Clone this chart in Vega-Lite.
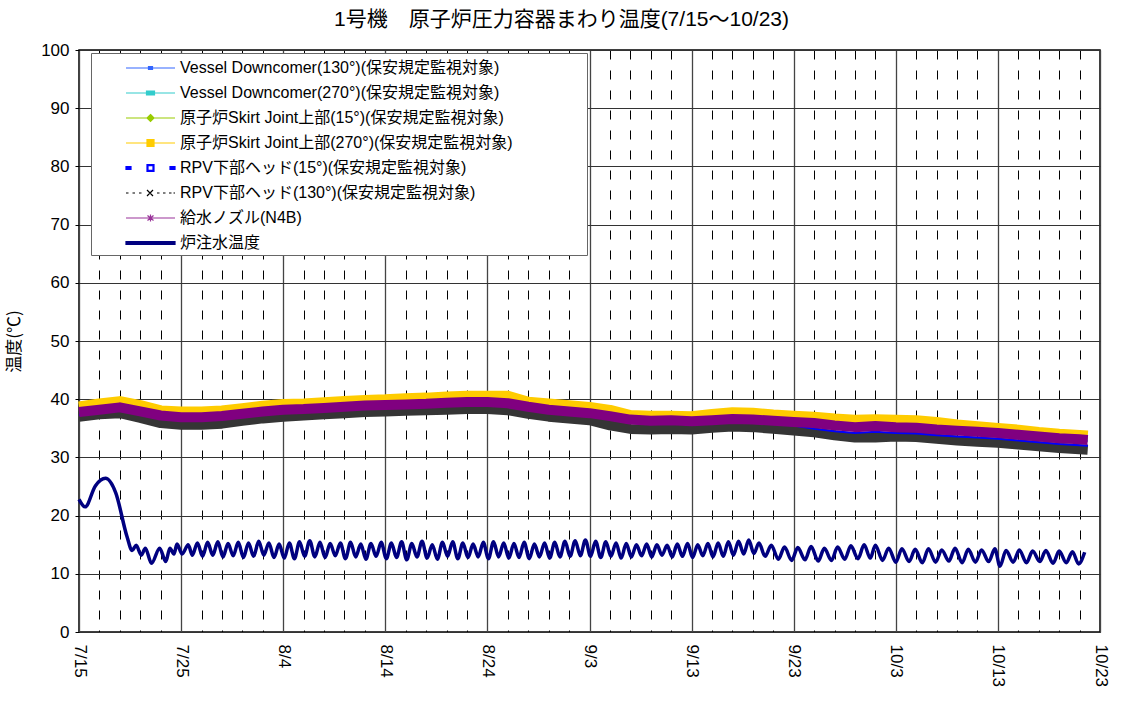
{
  "$schema": "https://vega.github.io/schema/vega-lite/v6.json",
  "width": 1021,
  "height": 582,
  "autosize": {"type": "none"},
  "padding": {"left": 79, "top": 50, "right": 24, "bottom": 75},
  "background": "#ffffff",
  "title": {
    "text": "1号機　原子炉圧力容器まわり温度(7/15～10/23)",
    "fontSize": 21,
    "fontWeight": "normal",
    "font": "Liberation Sans, Noto Sans CJK JP",
    "color": "#000000",
    "anchor": "middle",
    "frame": "group",
    "dx": -28,
    "offset": 11
  },
  "datasets": {
    "bands": [
      {"day": 0, "s270": 38.6, "n4b": 37.8, "r130": 37.0, "r15": 37.3, "v130": 37.6, "v270": 37.9, "s15": 38.1},
      {"day": 2, "s270": 39.1, "n4b": 38.2, "r130": 37.4, "r15": 37.7, "v130": 38.0, "v270": 38.3, "s15": 38.5},
      {"day": 4, "s270": 39.5, "n4b": 38.6, "r130": 37.6, "r15": 38.1, "v130": 38.4, "v270": 38.7, "s15": 38.9},
      {"day": 6, "s270": 38.8, "n4b": 37.9, "r130": 36.8, "r15": 37.4, "v130": 37.7, "v270": 38.0, "s15": 38.2},
      {"day": 8, "s270": 37.9, "n4b": 37.2, "r130": 35.9, "r15": 36.7, "v130": 37.0, "v270": 37.3, "s15": 37.5},
      {"day": 10, "s270": 37.7, "n4b": 36.9, "r130": 35.6, "r15": 36.4, "v130": 36.7, "v270": 37.0, "s15": 37.2},
      {"day": 12, "s270": 37.7, "n4b": 36.9, "r130": 35.6, "r15": 36.4, "v130": 36.7, "v270": 37.0, "s15": 37.2},
      {"day": 14, "s270": 37.9, "n4b": 37.1, "r130": 35.8, "r15": 36.6, "v130": 36.9, "v270": 37.2, "s15": 37.4},
      {"day": 16, "s270": 38.3, "n4b": 37.5, "r130": 36.3, "r15": 37.0, "v130": 37.3, "v270": 37.6, "s15": 37.8},
      {"day": 18, "s270": 38.7, "n4b": 37.9, "r130": 36.7, "r15": 37.4, "v130": 37.7, "v270": 38.0, "s15": 38.2},
      {"day": 20, "s270": 39.0, "n4b": 38.2, "r130": 37.0, "r15": 37.7, "v130": 38.0, "v270": 38.3, "s15": 38.5},
      {"day": 22, "s270": 39.1, "n4b": 38.3, "r130": 37.2, "r15": 37.8, "v130": 38.1, "v270": 38.4, "s15": 38.6},
      {"day": 24, "s270": 39.3, "n4b": 38.5, "r130": 37.4, "r15": 38.0, "v130": 38.3, "v270": 38.6, "s15": 38.8},
      {"day": 26, "s270": 39.5, "n4b": 38.7, "r130": 37.6, "r15": 38.2, "v130": 38.5, "v270": 38.8, "s15": 39.0},
      {"day": 28, "s270": 39.7, "n4b": 38.9, "r130": 37.8, "r15": 38.4, "v130": 38.7, "v270": 39.0, "s15": 39.2},
      {"day": 30, "s270": 39.8, "n4b": 39.0, "r130": 37.9, "r15": 38.5, "v130": 38.8, "v270": 39.1, "s15": 39.3},
      {"day": 32, "s270": 40.0, "n4b": 39.1, "r130": 38.0, "r15": 38.6, "v130": 38.9, "v270": 39.2, "s15": 39.4},
      {"day": 34, "s270": 40.1, "n4b": 39.2, "r130": 38.1, "r15": 38.7, "v130": 39.0, "v270": 39.3, "s15": 39.5},
      {"day": 36, "s270": 40.3, "n4b": 39.4, "r130": 38.2, "r15": 38.9, "v130": 39.2, "v270": 39.5, "s15": 39.7},
      {"day": 38, "s270": 40.4, "n4b": 39.5, "r130": 38.3, "r15": 39.0, "v130": 39.3, "v270": 39.6, "s15": 39.8},
      {"day": 40, "s270": 40.4, "n4b": 39.5, "r130": 38.3, "r15": 39.0, "v130": 39.3, "v270": 39.6, "s15": 39.8},
      {"day": 42, "s270": 40.4, "n4b": 39.3, "r130": 38.1, "r15": 38.8, "v130": 39.1, "v270": 39.4, "s15": 39.6},
      {"day": 44, "s270": 39.4, "n4b": 38.7, "r130": 37.5, "r15": 38.2, "v130": 38.5, "v270": 38.8, "s15": 39.0},
      {"day": 46, "s270": 39.1, "n4b": 38.2, "r130": 37.0, "r15": 37.7, "v130": 38.0, "v270": 38.3, "s15": 38.5},
      {"day": 48, "s270": 38.8, "n4b": 37.9, "r130": 36.7, "r15": 37.4, "v130": 37.7, "v270": 38.0, "s15": 38.2},
      {"day": 50, "s270": 38.5, "n4b": 37.6, "r130": 36.4, "r15": 37.1, "v130": 37.4, "v270": 37.7, "s15": 37.9},
      {"day": 52, "s270": 38.0, "n4b": 37.1, "r130": 35.5, "r15": 36.6, "v130": 36.9, "v270": 37.2, "s15": 37.4},
      {"day": 54, "s270": 37.1, "n4b": 36.5, "r130": 34.9, "r15": 36.0, "v130": 36.3, "v270": 36.6, "s15": 36.8},
      {"day": 56, "s270": 37.0, "n4b": 36.3, "r130": 34.8, "r15": 35.8, "v130": 36.1, "v270": 36.4, "s15": 36.6},
      {"day": 58, "s270": 37.0, "n4b": 36.4, "r130": 34.9, "r15": 35.9, "v130": 36.2, "v270": 36.5, "s15": 36.7},
      {"day": 60, "s270": 36.9, "n4b": 36.2, "r130": 34.8, "r15": 35.7, "v130": 36.0, "v270": 36.3, "s15": 36.5},
      {"day": 62, "s270": 37.3, "n4b": 36.4, "r130": 35.1, "r15": 35.9, "v130": 36.2, "v270": 36.5, "s15": 36.7},
      {"day": 64, "s270": 37.6, "n4b": 36.6, "r130": 35.3, "r15": 36.1, "v130": 36.4, "v270": 36.7, "s15": 36.9},
      {"day": 66, "s270": 37.5, "n4b": 36.5, "r130": 35.2, "r15": 36.0, "v130": 36.3, "v270": 36.6, "s15": 36.8},
      {"day": 68, "s270": 37.2, "n4b": 36.3, "r130": 34.9, "r15": 35.8, "v130": 36.1, "v270": 36.4, "s15": 36.6},
      {"day": 70, "s270": 37.0, "n4b": 36.1, "r130": 34.6, "r15": 35.5, "v130": 35.9, "v270": 36.2, "s15": 36.4},
      {"day": 72, "s270": 36.8, "n4b": 35.9, "r130": 34.3, "r15": 34.9, "v130": 35.7, "v270": 36.0, "s15": 36.2},
      {"day": 74, "s270": 36.5, "n4b": 35.5, "r130": 33.8, "r15": 34.5, "v130": 35.3, "v270": 35.6, "s15": 35.8},
      {"day": 76, "s270": 36.3, "n4b": 35.2, "r130": 33.4, "r15": 34.2, "v130": 35.0, "v270": 35.3, "s15": 35.5},
      {"day": 78, "s270": 36.4, "n4b": 35.4, "r130": 33.4, "r15": 34.4, "v130": 35.2, "v270": 35.5, "s15": 35.7},
      {"day": 80, "s270": 36.3, "n4b": 35.2, "r130": 33.6, "r15": 34.2, "v130": 35.0, "v270": 35.3, "s15": 35.5},
      {"day": 82, "s270": 36.2, "n4b": 35.1, "r130": 33.5, "r15": 34.1, "v130": 34.9, "v270": 35.2, "s15": 35.4},
      {"day": 84, "s270": 35.9, "n4b": 34.8, "r130": 33.2, "r15": 33.8, "v130": 34.6, "v270": 34.9, "s15": 35.1},
      {"day": 86, "s270": 35.5, "n4b": 34.6, "r130": 32.9, "r15": 33.6, "v130": 34.4, "v270": 34.7, "s15": 34.9},
      {"day": 88, "s270": 35.2, "n4b": 34.4, "r130": 32.7, "r15": 33.4, "v130": 34.2, "v270": 34.5, "s15": 34.7},
      {"day": 90, "s270": 34.9, "n4b": 34.2, "r130": 32.5, "r15": 33.2, "v130": 34.0, "v270": 34.3, "s15": 34.5},
      {"day": 92, "s270": 34.6, "n4b": 33.9, "r130": 32.2, "r15": 32.9, "v130": 33.7, "v270": 34.0, "s15": 34.2},
      {"day": 94, "s270": 34.2, "n4b": 33.6, "r130": 31.9, "r15": 32.6, "v130": 33.4, "v270": 33.7, "s15": 33.9},
      {"day": 96, "s270": 33.9, "n4b": 33.3, "r130": 31.6, "r15": 32.3, "v130": 33.1, "v270": 33.4, "s15": 33.6},
      {"day": 98, "s270": 33.7, "n4b": 33.1, "r130": 31.4, "r15": 32.1, "v130": 32.9, "v270": 33.2, "s15": 33.4},
      {"day": 98.8, "s270": 33.6, "n4b": 33.0, "r130": 31.3, "r15": 32.0, "v130": 32.8, "v270": 33.1, "s15": 33.3}
    ],
    "water": [
      {"day": 0, "v": 22.8}, {"day": 0.6, "v": 21.5}, {"day": 1.6, "v": 25.1}, {"day": 2.6, "v": 26.4},
      {"day": 3.6, "v": 23.9}, {"day": 4.7, "v": 16.4}, {"day": 5.2, "v": 14.0}, {"day": 5.6, "v": 14.9},
      {"day": 6.1, "v": 13.2}, {"day": 6.5, "v": 14.4}, {"day": 7.1, "v": 11.8}, {"day": 7.9, "v": 14.4},
      {"day": 8.5, "v": 12.1}, {"day": 8.9, "v": 14.4}, {"day": 9.3, "v": 13.4}, {"day": 9.6, "v": 15.1},
      {"day": 10.1, "v": 13.4}, {"day": 10.7, "v": 15.0}, {"day": 11.1, "v": 13.2}, {"day": 11.6, "v": 15.3},
      {"day": 12.1, "v": 13.0}, {"day": 12.6, "v": 15.4}, {"day": 13.1, "v": 13.2}, {"day": 13.6, "v": 15.5},
      {"day": 14.1, "v": 12.9}, {"day": 14.6, "v": 15.2}, {"day": 15.1, "v": 13.1}, {"day": 15.6, "v": 15.4},
      {"day": 16.1, "v": 12.8}, {"day": 16.6, "v": 15.3}, {"day": 17.1, "v": 13.0}, {"day": 17.6, "v": 15.6},
      {"day": 18.1, "v": 13.2}, {"day": 18.6, "v": 15.3}, {"day": 19.1, "v": 12.8}, {"day": 19.6, "v": 15.1},
      {"day": 20.1, "v": 12.7}, {"day": 20.6, "v": 15.3}, {"day": 21.1, "v": 12.6}, {"day": 21.6, "v": 15.5},
      {"day": 22.1, "v": 13.0}, {"day": 22.6, "v": 15.7}, {"day": 23.1, "v": 12.9}, {"day": 23.6, "v": 15.4},
      {"day": 24.1, "v": 12.8}, {"day": 24.6, "v": 15.2}, {"day": 25.1, "v": 13.1}, {"day": 25.6, "v": 15.3},
      {"day": 26.1, "v": 12.6}, {"day": 26.6, "v": 15.4}, {"day": 27.1, "v": 12.9}, {"day": 27.6, "v": 15.1},
      {"day": 28.1, "v": 12.5}, {"day": 28.6, "v": 15.2}, {"day": 29.1, "v": 13.0}, {"day": 29.6, "v": 15.4},
      {"day": 30.1, "v": 12.6}, {"day": 30.6, "v": 15.3}, {"day": 31.1, "v": 12.8}, {"day": 31.6, "v": 15.5},
      {"day": 32.1, "v": 12.4}, {"day": 32.6, "v": 15.2}, {"day": 33.1, "v": 12.9}, {"day": 33.6, "v": 15.6},
      {"day": 34.1, "v": 12.7}, {"day": 34.6, "v": 15.0}, {"day": 35.1, "v": 12.5}, {"day": 35.6, "v": 15.4},
      {"day": 36.1, "v": 13.0}, {"day": 36.6, "v": 15.5}, {"day": 37.1, "v": 12.6}, {"day": 37.6, "v": 15.3},
      {"day": 38.1, "v": 12.8}, {"day": 38.6, "v": 15.1}, {"day": 39.1, "v": 12.9}, {"day": 39.6, "v": 15.4},
      {"day": 40.1, "v": 12.6}, {"day": 40.6, "v": 15.5}, {"day": 41.1, "v": 12.9}, {"day": 41.6, "v": 15.3},
      {"day": 42.1, "v": 12.7}, {"day": 42.6, "v": 15.2}, {"day": 43.1, "v": 12.8}, {"day": 43.6, "v": 15.4},
      {"day": 44.1, "v": 12.6}, {"day": 44.6, "v": 15.1}, {"day": 45.1, "v": 12.9}, {"day": 45.6, "v": 15.3},
      {"day": 46.1, "v": 12.7}, {"day": 46.6, "v": 15.4}, {"day": 47.1, "v": 12.9}, {"day": 47.6, "v": 15.6},
      {"day": 48.1, "v": 13.0}, {"day": 48.6, "v": 15.7}, {"day": 49.1, "v": 13.1}, {"day": 49.6, "v": 15.8},
      {"day": 50.1, "v": 13.0}, {"day": 50.6, "v": 15.6}, {"day": 51.1, "v": 12.8}, {"day": 51.6, "v": 15.5},
      {"day": 52.1, "v": 13.0}, {"day": 52.6, "v": 15.3}, {"day": 53.1, "v": 12.7}, {"day": 53.6, "v": 15.2},
      {"day": 54.1, "v": 12.9}, {"day": 54.6, "v": 15.0}, {"day": 55.1, "v": 13.1}, {"day": 55.6, "v": 15.1},
      {"day": 56.1, "v": 12.9}, {"day": 56.6, "v": 15.0}, {"day": 57.1, "v": 13.2}, {"day": 57.6, "v": 14.9},
      {"day": 58.1, "v": 12.9}, {"day": 58.6, "v": 15.1}, {"day": 59.1, "v": 13.0}, {"day": 59.6, "v": 15.2},
      {"day": 60.1, "v": 12.8}, {"day": 60.6, "v": 15.0}, {"day": 61.1, "v": 13.1}, {"day": 61.6, "v": 15.2},
      {"day": 62.1, "v": 12.9}, {"day": 62.6, "v": 15.3}, {"day": 63.1, "v": 13.0}, {"day": 63.6, "v": 15.5},
      {"day": 64.1, "v": 13.2}, {"day": 64.6, "v": 15.6}, {"day": 65.1, "v": 13.4}, {"day": 65.6, "v": 15.8},
      {"day": 66.1, "v": 13.5}, {"day": 66.6, "v": 15.3}, {"day": 67.2, "v": 13.0}, {"day": 67.8, "v": 14.9},
      {"day": 68.5, "v": 12.5}, {"day": 69.1, "v": 14.6}, {"day": 69.8, "v": 12.3}, {"day": 70.4, "v": 14.5},
      {"day": 71.1, "v": 12.4}, {"day": 71.7, "v": 14.7}, {"day": 72.4, "v": 12.2}, {"day": 73.0, "v": 14.4},
      {"day": 73.7, "v": 12.3}, {"day": 74.3, "v": 14.6}, {"day": 75.0, "v": 12.5}, {"day": 75.6, "v": 14.8},
      {"day": 76.3, "v": 12.6}, {"day": 76.9, "v": 15.0}, {"day": 77.5, "v": 12.7}, {"day": 78.0, "v": 14.9},
      {"day": 78.7, "v": 12.3}, {"day": 79.3, "v": 14.4}, {"day": 80.0, "v": 12.0}, {"day": 80.6, "v": 14.3},
      {"day": 81.3, "v": 12.1}, {"day": 81.9, "v": 14.2}, {"day": 82.6, "v": 11.9}, {"day": 83.2, "v": 14.3},
      {"day": 83.9, "v": 12.0}, {"day": 84.5, "v": 14.1}, {"day": 85.2, "v": 12.2}, {"day": 85.8, "v": 14.4},
      {"day": 86.5, "v": 11.9}, {"day": 87.1, "v": 14.2}, {"day": 87.8, "v": 12.0}, {"day": 88.4, "v": 14.1},
      {"day": 89.1, "v": 12.1}, {"day": 89.7, "v": 14.3}, {"day": 90.2, "v": 11.3}, {"day": 90.8, "v": 14.0},
      {"day": 91.5, "v": 12.0}, {"day": 92.1, "v": 14.1}, {"day": 92.8, "v": 11.9}, {"day": 93.4, "v": 13.9},
      {"day": 94.1, "v": 12.1}, {"day": 94.7, "v": 14.0}, {"day": 95.4, "v": 11.8}, {"day": 96.0, "v": 13.9},
      {"day": 96.7, "v": 11.9}, {"day": 97.3, "v": 13.8}, {"day": 97.9, "v": 11.7}, {"day": 98.5, "v": 13.7}
    ]
  },
  "encoding": {
    "x": {
      "field": "day",
      "type": "quantitative",
      "scale": {"domain": [0, 100], "nice": false, "zero": false},
      "axis": {
        "values": [0,2,4,6,8,10,12,14,16,18,20,22,24,26,28,30,32,34,36,38,40,42,44,46,48,50,52,54,56,58,60,62,64,66,68,70,72,74,76,78,80,82,84,86,88,90,92,94,96,98,100],
        "labelExpr": "datum.value % 10 === 0 ? ['7/15','7/25','8/4','8/14','8/24','9/3','9/13','9/23','10/3','10/13','10/23'][datum.value / 10] : ''",
        "labelAngle": 90,
        "labelAlign": "left",
        "labelBaseline": "middle",
        "labelFontSize": 17,
        "labelFont": "Liberation Sans",
        "labelColor": "#000000",
        "labelPadding": 12,
        "labelOverlap": false,
        "labelFlush": false,
        "labelBound": false,
        "ticks": false,
        "domain": false,
        "title": null,
        "grid": true,
        "gridColor": {"condition": {"test": "datum.value % 10 === 0", "value": "#444444"}, "value": "#000000"},
        "gridDash": {"condition": {"test": "datum.value % 10 === 0", "value": []}, "value": [9, 11]},
        "gridWidth": {"condition": {"test": "datum.value % 10 === 0", "value": 1.3}, "value": 1}
      }
    },
    "y": {
      "field": "v",
      "type": "quantitative",
      "scale": {"domain": [0, 100], "nice": false},
      "axis": {
        "values": [0,10,20,30,40,50,60,70,80,90,100],
        "labelFontSize": 17,
        "labelFont": "Liberation Sans",
        "labelColor": "#000000",
        "labelPadding": 6,
        "tickSize": 4,
        "tickColor": "#000000",
        "domain": false,
        "grid": true,
        "gridColor": "#333333",
        "gridWidth": 1,
        "title": "温度(℃)",
        "titleFont": "Noto Sans CJK JP",
        "titleFontSize": 17,
        "titleFontWeight": "normal",
        "titleColor": "#000000",
        "titleX": -65,
        "titleY": 291,
        "titleAngle": -90,
        "titleAlign": "center",
        "titleBaseline": "middle"
      }
    }
  },
  "layer": [
    {
      "data": {"name": "bands"},
      "transform": [{"fold": ["s270"], "as": ["s", "v"]}],
      "mark": {"type": "line", "color": "#FFCC00", "strokeWidth": 12, "strokeJoin": "round"}
    },
    {
      "data": {"name": "bands"},
      "transform": [{"fold": ["v130"], "as": ["s", "v"]}],
      "mark": {"type": "line", "color": "#3366FF", "strokeWidth": 2}
    },
    {
      "data": {"name": "bands"},
      "transform": [{"fold": ["v270"], "as": ["s", "v"]}],
      "mark": {"type": "line", "color": "#33CCCC", "strokeWidth": 2}
    },
    {
      "data": {"name": "bands"},
      "transform": [{"fold": ["s15"], "as": ["s", "v"]}],
      "mark": {"type": "line", "color": "#99CC00", "strokeWidth": 2}
    },
    {
      "data": {"name": "bands"},
      "transform": [{"fold": ["r130"], "as": ["s", "v"]}],
      "mark": {"type": "line", "color": "#353535", "strokeWidth": 10, "strokeJoin": "round"}
    },
    {
      "data": {"name": "bands"},
      "transform": [{"fold": ["r15"], "as": ["s", "v"]}],
      "mark": {"type": "line", "color": "#0000FF", "strokeWidth": 2}
    },
    {
      "data": {"name": "bands"},
      "transform": [{"fold": ["n4b"], "as": ["s", "v"]}],
      "mark": {"type": "line", "color": "#800080", "strokeWidth": 10, "strokeJoin": "round"}
    },
    {
      "data": {"name": "water"},
      "mark": {"type": "line", "color": "#000080", "strokeWidth": 3.5, "interpolate": "monotone", "strokeJoin": "round"}
    },
    {
      "data": {"name": "bands"},
      "transform": [{"fold": ["v130", "v270", "s15", "s270", "r15", "r130", "n4b"], "as": ["s", "v"]}],
      "mark": {"type": "point", "opacity": 0},
      "encoding": {
        "shape": {
          "field": "s",
          "type": "nominal",
          "scale": {
            "domain": ["v130", "v270", "s15", "s270", "r15", "r130", "n4b", "water"],
            "range": [
              "M2,0H6.9M4.25,-0.15H4.65V0.15H4.25Z",
              "M2,0H6.9M4.05,-0.2H4.85V0.2H4.05Z",
              "M2,0H6.9M4.45,-0.35L4.8,0L4.45,0.35L4.1,0Z",
              "M2,0H6.9M4.1,-0.35H4.8V0.35H4.1Z",
              "M2,-0.15H2.5V0.15H2Z M6.4,-0.15H6.9V0.15H6.4Z M4.1,-0.33H4.8V0.33H4.1Z M4.2,-0.23V0.23H4.7V-0.23Z",
              "M2,0H2.25M2.65,0H2.9M3.3,0H3.55M5.1,0H5.35M5.7,0H5.95M6.3,0H6.55M6.75,0H6.9M4.1,-0.3L4.7,0.3M4.1,0.3L4.7,-0.3",
              "M2,0H6.9M4.45,-0.35V0.35M4.15,-0.25L4.75,0.25M4.15,0.25L4.75,-0.25",
              "M2,-0.15H6.9V0.15H2Z"
            ]
          },
          "legend": {
            "title": "　",
            "titleOrient": "right",
            "titleFontSize": 16,
            "titlePadding": 70,
            "orient": "none",
            "legendX": 12,
            "legendY": 3,
            "padding": 4,
            "strokeColor": "#666666",
            "fillColor": "#ffffff",
            "symbolSize": 400,
            "symbolStrokeWidth": 1.2,
            "symbolOpacity": 1,
            "labelFontSize": 16,
            "labelFont": "Liberation Sans, Noto Sans CJK JP",
            "labelColor": "#000000",
            "labelOffset": 63,
            "labelLimit": 700,
            "rowPadding": 6,
            "labelExpr": "{'v130': 'Vessel Downcomer(130°)(保安規定監視対象)', 'v270': 'Vessel Downcomer(270°)(保安規定監視対象)', 's15': '原子炉Skirt Joint上部(15°)(保安規定監視対象)', 's270': '原子炉Skirt Joint上部(270°)(保安規定監視対象)', 'r15': 'RPV下部ヘッド(15°)(保安規定監視対象)', 'r130': 'RPV下部ヘッド(130°)(保安規定監視対象)', 'n4b': '給水ノズル(N4B)', 'water': '炉注水温度'}[datum.value]"
          }
        },
        "fill": {
          "field": "s",
          "type": "nominal",
          "scale": {
            "domain": ["v130", "v270", "s15", "s270", "r15", "r130", "n4b", "water"],
            "range": ["#3366FF", "#33CCCC", "#99CC00", "#FFCC00", "#0000FF", "#000000", "#993399", "#000080"]
          }
        },
        "stroke": {
          "field": "s",
          "type": "nominal",
          "scale": {
            "domain": ["v130", "v270", "s15", "s270", "r15", "r130", "n4b", "water"],
            "range": ["#3366FF", "#33CCCC", "#99CC00", "#FFCC00", "#0000FF", "#000000", "#993399", "#000080"]
          }
        }
      }
    }
  ],
  "config": {
    "font": "Liberation Sans, Noto Sans CJK JP",
    "view": {"stroke": "#000000", "strokeWidth": 1.5}
  }
}
